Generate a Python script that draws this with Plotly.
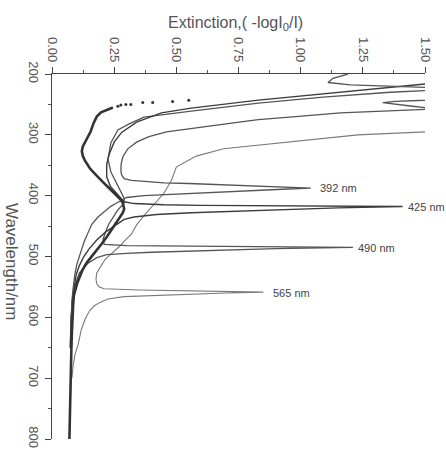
import plotly.graph_objects as go

# ---------------- data ----------------
# solvent / baseline spectrum (thick)
base_wl = [255, 259, 263, 270, 280, 295, 310, 319, 327, 335, 342, 348, 355, 362, 369, 377, 385, 393,
           401, 407, 412, 417, 422, 428, 436, 447, 457, 468, 479, 490, 500, 510, 521, 532, 543, 555,
           564, 580, 600, 625, 650, 675, 700, 725, 750, 775, 800]
base_E = [0.245, 0.22, 0.197, 0.18, 0.168, 0.155, 0.135, 0.124, 0.12, 0.124, 0.132, 0.142, 0.152, 0.168,
          0.183, 0.203, 0.223, 0.244, 0.263, 0.277, 0.285, 0.289, 0.29, 0.285, 0.272, 0.255, 0.24, 0.22,
          0.2, 0.178, 0.158, 0.14, 0.124, 0.112, 0.102, 0.094, 0.088, 0.085, 0.082, 0.08, 0.078, 0.077,
          0.075, 0.074, 0.072, 0.071, 0.07]
# dotted continuation of the baseline
dots_wl = [253, 251, 250, 250, 247, 247, 245, 243]
dots_E = [0.265, 0.277, 0.297, 0.317, 0.365, 0.405, 0.485, 0.55]

# spectrum with band at 392 nm
s392_wl = [200, 207, 214, 218, 222, 226, 240, 243, 245, 247, 250, 253, 256, 258, 261, 264, 270, 275, 282,
           287, 291, 295, 303, 312, 323, 336, 348, 359, 366, 372, 375, 377, 379, 380, 382, 384, 386, 387.5,
           389, 391, 393, 395, 396.5, 398, 400, 403, 407, 412, 418, 425, 435, 447, 460, 473, 487, 500, 513,
           527, 540, 555, 570, 590, 620]
s392_E = [1.19, 1.13, 1.11, 1.2, 1.5, 1.7, 1.7, 1.5, 1.38, 1.33, 1.38, 1.45, 1.52, 1.51, 1.33, 1.16, 0.98,
          0.83, 0.7, 0.6, 0.54, 0.46, 0.39, 0.34, 0.305, 0.285, 0.278, 0.277, 0.28, 0.29, 0.32, 0.37, 0.45,
          0.55, 0.68, 0.8, 0.93, 1.04, 0.95, 0.85, 0.76, 0.66, 0.58, 0.46, 0.37, 0.3, 0.28, 0.26, 0.235,
          0.215, 0.185, 0.16, 0.145, 0.132, 0.12, 0.11, 0.1, 0.093, 0.088, 0.084, 0.081, 0.079, 0.077]

# spectrum with band at 425 nm
s425_wl = [200, 214, 216, 222, 232, 243, 256, 264, 279, 296, 312, 332, 348, 369, 385, 396, 405, 410, 413,
           415, 416, 417, 417.7, 420, 423, 426, 428, 431, 435, 439, 447, 460, 473, 487, 500, 515, 530, 550,
           570, 600, 650]
s425_E = [1.7, 1.6, 1.51, 1.36, 1.09, 0.83, 0.56, 0.44, 0.34, 0.28, 0.25, 0.23, 0.22, 0.22, 0.235, 0.26,
          0.28, 0.29, 0.33, 0.45, 0.6, 1.0, 1.41, 1.15, 0.9, 0.7, 0.56, 0.42, 0.33, 0.29, 0.26, 0.215, 0.18,
          0.15, 0.128, 0.11, 0.097, 0.088, 0.082, 0.077, 0.074]

# spectrum with band at 490 nm
s490_wl = [200, 224, 227, 230, 238, 248, 261, 271, 282, 292, 313, 340, 361, 383, 404, 412, 425, 436, 447,
           460, 472, 480, 482, 483, 484, 485, 487, 489, 491, 493, 495, 497, 502, 511, 527, 548, 570, 600,
           650]
s490_E = [1.7, 1.6, 1.51, 1.36, 1.09, 0.83, 0.56, 0.37, 0.31, 0.265, 0.237, 0.225, 0.237, 0.265, 0.29,
          0.29, 0.262, 0.245, 0.228, 0.215, 0.205, 0.21, 0.3, 0.56, 0.9, 1.21, 0.9, 0.7, 0.56, 0.4, 0.3,
          0.22, 0.18, 0.145, 0.11, 0.092, 0.083, 0.077, 0.073]

# spectrum with band at 565 nm
s565_wl = [280, 295, 300, 311, 323, 335, 348, 353, 375, 396, 410, 428, 448, 463, 475, 484, 495, 505, 517,
           527, 537, 545, 550, 553, 555, 556.5, 558.5, 560, 561.5, 563, 566, 570, 575, 581, 590, 601, 620,
           645, 660, 680, 700]
s565_E = [1.7, 1.51, 1.23, 0.96, 0.69, 0.58, 0.52, 0.5, 0.48, 0.45, 0.42, 0.38, 0.34, 0.32, 0.29, 0.27,
          0.24, 0.213, 0.195, 0.18, 0.177, 0.18, 0.19, 0.21, 0.35, 0.6, 0.85, 0.7, 0.6, 0.42, 0.29, 0.225,
          0.195, 0.17, 0.15, 0.135, 0.118, 0.105, 0.093, 0.085, 0.08]

peak_labels = ["392 nm", "425 nm", "490 nm", "565 nm"]
label_E = [1.07, 1.424, 1.223, 0.882]
label_wl = [387, 418, 486, 560]

x_ticks = [0.0, 0.25, 0.5, 0.75, 1.0, 1.25, 1.5]
y_ticks = [200, 300, 400, 500, 600, 700, 800]

# ---------------- figure ----------------
dark = "#3c3c3c"
mid = "#555555"
light = "#7a7a7a"
FONT = "Liberation Sans, Arial, sans-serif"

fig = go.Figure()

def add_line(wl, E, color, width):
    fig.add_trace(go.Scatter(x=E, y=wl, mode="lines", line=dict(color=color, width=width),
                             hoverinfo="skip", showlegend=False))

add_line(s565_wl, s565_E, light, 1.1)
add_line(s490_wl, s490_E, mid, 1.3)
add_line(s425_wl, s425_E, dark, 1.4)
add_line(s392_wl, s392_E, mid, 1.3)
add_line(base_wl, base_E, "#333333", 2.6)
fig.add_trace(go.Scatter(x=dots_E, y=dots_wl, mode="markers",
                         marker=dict(color="#333333", size=3), hoverinfo="skip", showlegend=False))

for t, e, w in zip(peak_labels, label_E, label_wl):
    fig.add_annotation(x=e, y=w, text=t, showarrow=False, xanchor="left", yanchor="middle",
                       font=dict(family=FONT, size=11, color="#444444"))

fig.add_annotation(xref="paper", yref="paper", x=0.493, y=1.137,
                   text="Extinction,( -logI<sub>0</sub>/I)", showarrow=False,
                   font=dict(family=FONT, size=16, color="#555555"), xanchor="center", yanchor="middle")
fig.add_annotation(xref="paper", yref="paper", x=-0.11, y=0.485, text="Wavelength/nm",
                   textangle=90, showarrow=False,
                   font=dict(family=FONT, size=17, color="#555555"), xanchor="center", yanchor="middle")

fig.update_layout(
    width=446, height=460,
    margin=dict(l=52, r=21, t=74, b=13),
    paper_bgcolor="white", plot_bgcolor="white",
    font=dict(family=FONT, color="#555555"),
)
fig.update_xaxes(
    side="top", range=[0, 1.5], tickvals=x_ticks,
    ticktext=[f"{v:.2f}" for v in x_ticks], tickangle=90,
    ticks="outside", ticklen=6, tickcolor="#444", tickfont=dict(size=13, family=FONT, color="#555"),
    minor=dict(ticks="outside", ticklen=3, dtick=0.125, tick0=0, tickcolor="#555"),
    showline=True, linecolor="#444", linewidth=1.3, showgrid=False, zeroline=False,
)
fig.update_yaxes(
    range=[800, 200], tickvals=y_ticks, ticktext=[str(v) for v in y_ticks], tickangle=90,
    ticks="outside", ticklen=6, tickcolor="#444", tickfont=dict(size=13, family=FONT, color="#555"),
    minor=dict(ticks="outside", ticklen=3, dtick=50, tick0=200, tickcolor="#555"),
    showline=True, linecolor="#444", linewidth=1.3, showgrid=False, zeroline=False,
)

fig.write_html("out.html")
